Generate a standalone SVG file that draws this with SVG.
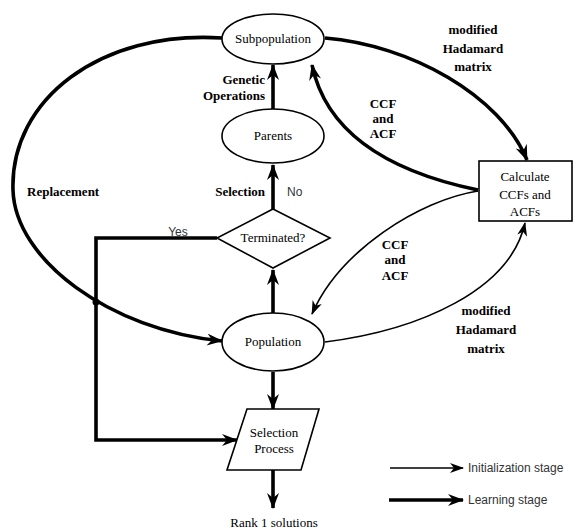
<svg xmlns="http://www.w3.org/2000/svg" width="581" height="532" viewBox="0 0 581 532">
<defs>
<style>
.node{fill:#fff;stroke:#000;stroke-width:1.6}
.lbl{font-family:'Liberation Serif','Times New Roman','DejaVu Serif',serif;font-size:13px;fill:#000;text-anchor:middle}
.bl{font-family:'Liberation Serif','Times New Roman','DejaVu Serif',serif;font-size:13px;font-weight:bold;fill:#000}
.sans{font-family:'Liberation Sans',Arial,sans-serif;font-size:12px;fill:#333}
.thick{fill:none;stroke:#000;stroke-width:3.6;marker-end:url(#ah)}
.thin{fill:none;stroke:#000;stroke-width:1.6;marker-end:url(#at)}
</style>
<marker id="ah" viewBox="0 0 16 12" refX="15" refY="6" markerWidth="16" markerHeight="12" markerUnits="userSpaceOnUse" orient="auto">
<path d="M0,0 L16,6 L0,12 L5,6 z" fill="#000"/>
</marker>
<marker id="at" viewBox="0 0 14 10" refX="13" refY="5" markerWidth="14" markerHeight="10" markerUnits="userSpaceOnUse" orient="auto">
<path d="M0,0 L14,5 L0,10 L4,5 z" fill="#000"/>
</marker>
</defs>
<rect width="581" height="532" fill="#fff"/>
<g id="connectors">
<path class="thick" d="M273,110 L273,65"/>
<path class="thick" d="M273,209 L273,165"/>
<path class="thick" d="M273,313 L273,270"/>
<path class="thick" d="M273,372 L273,409"/>
<path class="thick" d="M273,470 L273,508"/>
<path class="thick" d="M325,38 C410,45 500,95 527,160"/>
<path class="thick" d="M478,190 C420,178 330,150 312,65"/>
<path class="thin" d="M478,191 C420,200 340,250 312,314"/>
<path class="thin" d="M325,342 C420,330 510,290 525,223"/>
<path class="thick" d="M222,38 C100,30 10,100 13,190 C15,260 110,330 222,341"/>
<path class="thick" d="M217,238 L96,238 L96,440 L237,440"/>
<circle cx="96" cy="302" r="3.5" fill="#000"/>
</g>
<g id="subpopulation">
<ellipse class="node" cx="273" cy="39" rx="51" ry="25"/>
<text class="lbl" x="273" y="43" font-family="Liberation Serif, serif">Subpopulation</text>
</g>
<g id="parents">
<ellipse class="node" cx="273" cy="136" rx="51" ry="27"/>
<text class="lbl" x="273" y="140">Parents</text>
</g>
<g id="terminated">
<polygon class="node" points="273,209 330,238 273,268 217,238"/>
<text class="lbl" x="273" y="242">Terminated?</text>
</g>
<g id="population">
<ellipse class="node" cx="273" cy="342" rx="51" ry="29"/>
<text class="lbl" x="273" y="346">Population</text>
</g>
<g id="selection-process">
<polygon class="node" points="247,409 319,409 301,470 227,470"/>
<text class="lbl" x="274" y="437">Selection</text>
<text class="lbl" x="274" y="453">Process</text>
</g>
<g id="calculate">
<rect class="node" x="479" y="161" width="93" height="60"/>
<text class="lbl" x="525" y="181">Calculate</text>
<text class="lbl" x="525" y="199">CCFs and</text>
<text class="lbl" x="525" y="216">ACFs</text>
</g>
<g id="labels">
<text class="bl" x="265" y="84" text-anchor="end">Genetic</text>
<text class="bl" x="265" y="100" text-anchor="end">Operations</text>
<text class="bl" x="265" y="196" text-anchor="end">Selection</text>
<text class="sans" x="287" y="196">No</text>
<text class="sans" x="178" y="236" text-anchor="middle">Yes</text>
<text class="bl" x="27" y="196">Replacement</text>
<text class="bl" x="383" y="108" text-anchor="middle">CCF</text>
<text class="bl" x="383" y="123" text-anchor="middle">and</text>
<text class="bl" x="383" y="138" text-anchor="middle">ACF</text>
<text class="bl" x="395" y="249" text-anchor="middle">CCF</text>
<text class="bl" x="395" y="264" text-anchor="middle">and</text>
<text class="bl" x="395" y="280" text-anchor="middle">ACF</text>
<text class="bl" x="473" y="34" text-anchor="middle">modified</text>
<text class="bl" x="473" y="53" text-anchor="middle">Hadamard</text>
<text class="bl" x="473" y="71" text-anchor="middle">matrix</text>
<text class="bl" x="486" y="315" text-anchor="middle">modified</text>
<text class="bl" x="486" y="334" text-anchor="middle">Hadamard</text>
<text class="bl" x="486" y="353" text-anchor="middle">matrix</text>
<text class="lbl" x="274" y="527">Rank 1 solutions</text>
</g>
<g id="legend">
<path class="thin" d="M390,468 L463,468"/>
<text class="sans" x="468" y="472">Initialization stage</text>
<path class="thick" d="M389,500 L463,500"/>
<text class="sans" x="468" y="504">Learning stage</text>
</g>
</svg>
